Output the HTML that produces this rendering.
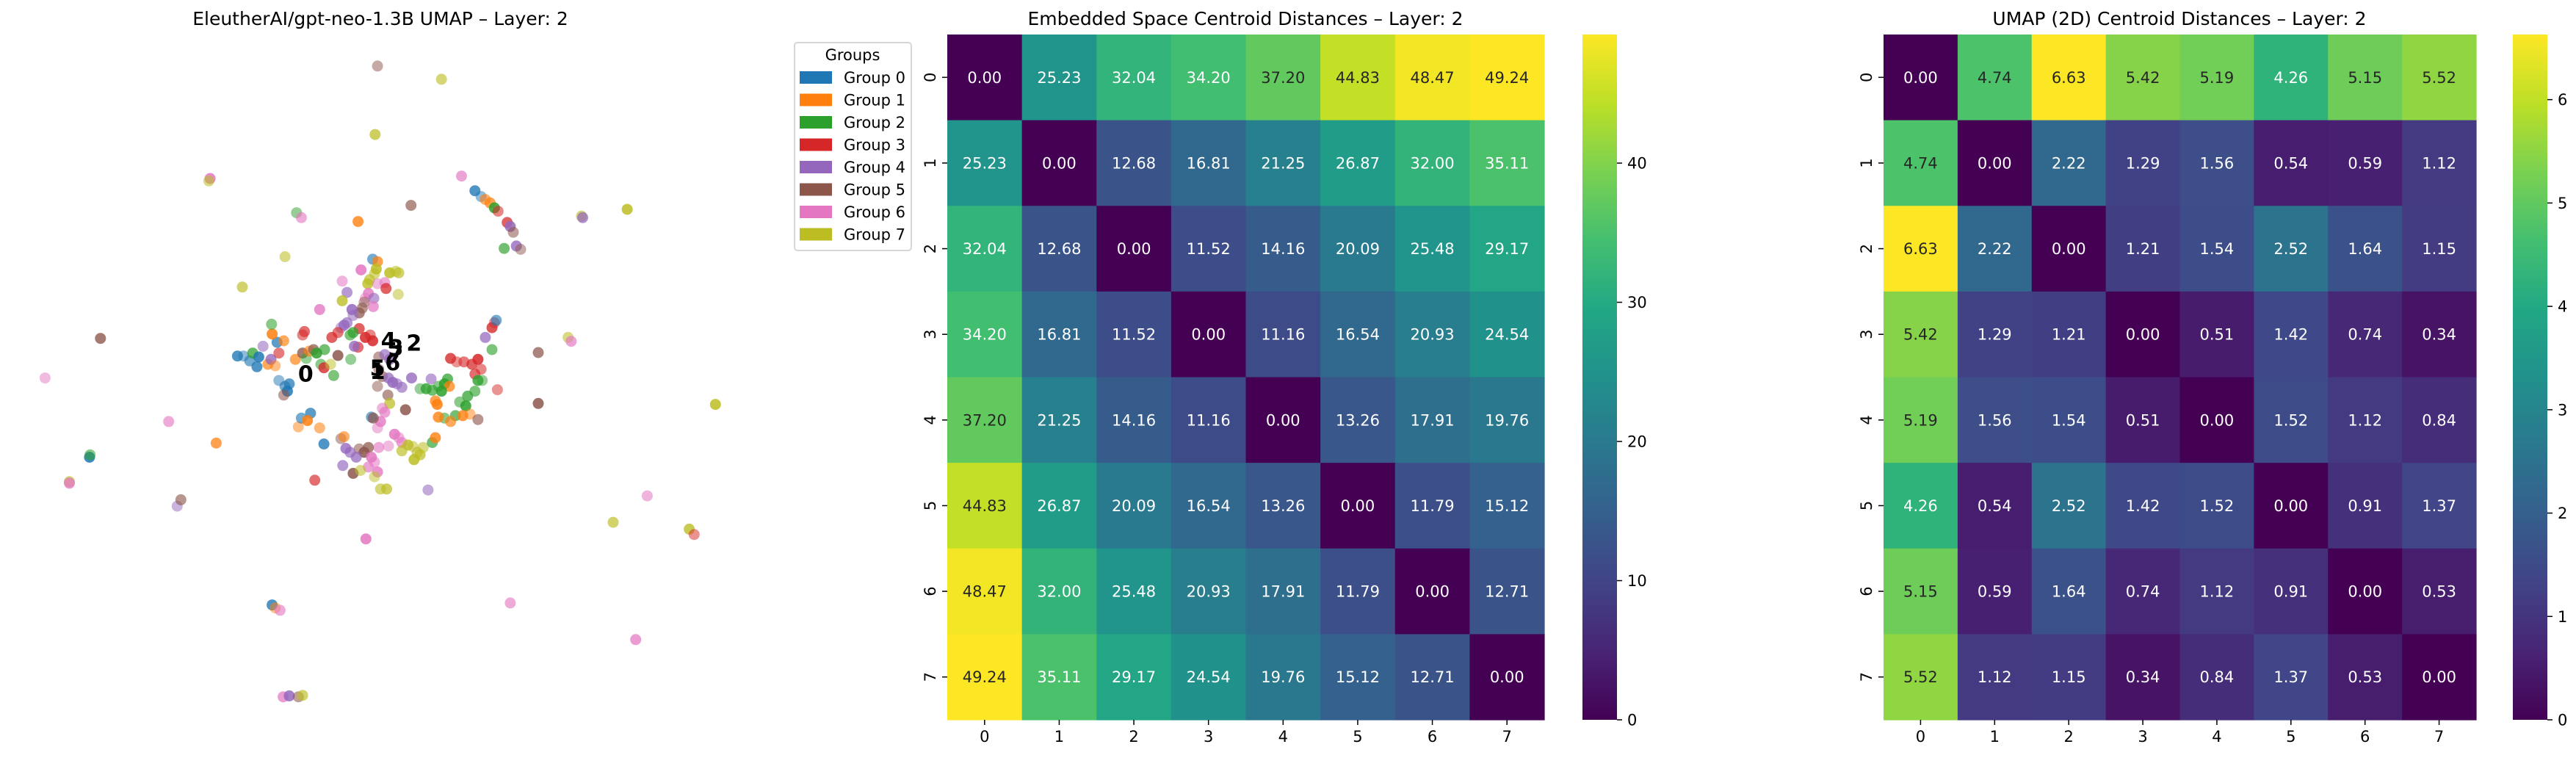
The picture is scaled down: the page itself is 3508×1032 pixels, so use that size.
<!DOCTYPE html>
<html><head><meta charset="utf-8">
<style>
html,body{margin:0;padding:0;background:#fff;}
svg{display:block;font-family:"DejaVu Sans","Liberation Sans",sans-serif;}
</style></head>
<body>
<svg id="fig" width="3508" height="1032" viewBox="0 0 3508 1032" xmlns="http://www.w3.org/2000/svg">
<defs>
<linearGradient id="viridis" x1="0" y1="1" x2="0" y2="0">
<stop offset="0" stop-color="#440154"/><stop offset="0.1" stop-color="#482475"/><stop offset="0.2" stop-color="#414487"/><stop offset="0.3" stop-color="#355f8d"/><stop offset="0.4" stop-color="#2a788e"/><stop offset="0.5" stop-color="#21918c"/><stop offset="0.6" stop-color="#22a884"/><stop offset="0.7" stop-color="#44bf70"/><stop offset="0.8" stop-color="#7ad151"/><stop offset="0.9" stop-color="#bddf26"/><stop offset="1" stop-color="#fde725"/>
</linearGradient>
</defs>
<text x="518" y="34" font-size="25" text-anchor="middle">EleutherAI/gpt-neo-1.3B UMAP – Layer: 2</text>
<g id="scatter"></g>
<g id="clabels"></g>
<g id="legend"></g>
<text x="1696" y="34" font-size="25" text-anchor="middle">Embedded Space Centroid Distances – Layer: 2</text>
<g id="hm1"></g>
<text x="2968" y="34" font-size="25" text-anchor="middle">UMAP (2D) Centroid Distances – Layer: 2</text>
<g id="hm2"></g>
</svg>
<script>
const NS="http://www.w3.org/2000/svg";
const groupColors=["#1f77b4","#ff7f0e","#2ca02c","#d62728","#9467bd","#8c564b","#e377c2","#bcbd22"];
const groupNames=["Group 0","Group 1","Group 2","Group 3","Group 4","Group 5","Group 6","Group 7"];
const embDist=[
[0.00,25.23,32.04,34.20,37.20,44.83,48.47,49.24],
[25.23,0.00,12.68,16.81,21.25,26.87,32.00,35.11],
[32.04,12.68,0.00,11.52,14.16,20.09,25.48,29.17],
[34.20,16.81,11.52,0.00,11.16,16.54,20.93,24.54],
[37.20,21.25,14.16,11.16,0.00,13.26,17.91,19.76],
[44.83,26.87,20.09,16.54,13.26,0.00,11.79,15.12],
[48.47,32.00,25.48,20.93,17.91,11.79,0.00,12.71],
[49.24,35.11,29.17,24.54,19.76,15.12,12.71,0.00]];
const umapDist=[
[0.00,4.74,6.63,5.42,5.19,4.26,5.15,5.52],
[4.74,0.00,2.22,1.29,1.56,0.54,0.59,1.12],
[6.63,2.22,0.00,1.21,1.54,2.52,1.64,1.15],
[5.42,1.29,1.21,0.00,0.51,1.42,0.74,0.34],
[5.19,1.56,1.54,0.51,0.00,1.52,1.12,0.84],
[4.26,0.54,2.52,1.42,1.52,0.00,0.91,1.37],
[5.15,0.59,1.64,0.74,1.12,0.91,0.00,0.53],
[5.52,1.12,1.15,0.34,0.84,1.37,0.53,0.00]];
const embTicks=[0,10,20,30,40];
const umapTicks=[0,1,2,3,4,5,6];
const catLabels=["0","1","2","3","4","5","6","7"];
// UMAP points: x, y, group
const ptX=[6.20,7.25,6.16,3.45,3.43,7.58,7.80,7.90,7.97,8.05,8.12,8.18,6.75,5.88,4.87,4.95,8.33,8.38,8.43,8.28,8.48,8.55,9.55,9.57,10.30,4.68,3.98,1.65,0.74,2.77,3.55,1.47,1.48,1.14,1.14,2.91,2.97,8.84,8.84,9.33,9.38,8.08,8.12,8.15,7.97,11.75,10.63,10.07,11.32,11.40,8.38,10.44,6.01,7.03,5.17,4.47,4.52,4.60,4.65,4.75,4.90,4.97,
3.90,4.00,4.10,4.15,4.25,4.32,4.40,4.45,4.52,4.58,4.55,4.47,4.46,4.66,4.22,4.58,4.68,4.75,4.72,4.66,4.85,4.97,5.03,5.08,5.15,5.20,5.27,5.33,5.32,5.43,5.48,5.45,5.55,4.97,5.00,5.25,5.76,
6.12,6.20,6.18,6.15,6.07,6.04,6.20,6.32,6.34,6.40,6.50,6.55,6.05,6.00,6.14,6.13,5.93,5.62,5.70,5.62,5.98,5.95,5.90,5.78,5.80,5.70,5.65,5.60,5.75,5.90,6.00,6.08,5.88,5.82,6.54,5.55,5.80,6.12,
6.22,6.32,6.40,6.22,6.28,6.38,6.45,6.52,6.60,6.76,6.20,6.37,6.40,6.66,6.28,6.32,6.25,6.20,6.10,6.13,
6.48,6.55,6.60,6.70,6.78,6.85,6.90,6.80,6.95,7.10,7.15,6.38,6.22,6.05,5.98,5.90,5.75,5.68,5.60,5.65,5.85,6.10,6.15,6.05,6.20,6.15,6.25,6.35,5.80,5.92,5.63,5.32,4.90,4.95,5.10,5.05,5.25,6.60,
7.40,7.50,7.62,7.75,7.85,7.90,7.80,7.85,7.92,7.80,7.68,7.65,7.55,7.48,7.60,7.72,7.85,7.35,7.30,7.20,7.10,7.00,6.90,7.08,7.15,7.18,7.30,7.40,7.20,8.17,8.08,7.38,7.25];
const ptY=[1.35,1.62,2.75,3.65,3.70,3.60,3.90,4.02,4.08,4.15,4.25,4.32,4.20,4.53,4.35,4.45,4.55,4.63,4.75,5.08,5.03,5.10,4.42,4.45,4.28,5.25,5.87,6.92,7.73,8.62,9.06,9.35,9.30,9.85,9.88,10.35,10.22,7.21,8.25,6.90,6.98,6.70,6.60,6.55,6.90,8.27,10.14,10.68,10.82,10.93,12.33,13.08,11.02,10.02,9.82,12.37,12.43,12.48,14.25,14.23,14.25,14.22,
7.28,7.28,7.38,7.22,7.30,7.08,7.45,7.35,7.48,7.22,7.00,6.83,6.63,6.97,7.50,7.78,7.90,7.85,8.00,8.08,7.35,7.22,7.33,7.18,7.15,7.22,7.45,7.15,7.52,7.45,7.68,6.90,7.27,6.85,6.78,6.33,7.35,
5.30,5.35,5.50,5.60,5.72,5.80,5.80,5.78,5.90,5.58,5.55,5.58,6.00,6.10,6.10,6.27,5.52,5.75,5.98,6.15,6.18,6.30,6.40,6.33,6.45,6.60,6.65,6.70,6.85,6.72,6.90,6.85,7.10,7.08,6.02,6.80,6.80,6.97,
7.30,7.25,7.35,7.55,7.70,7.73,7.82,7.85,7.92,7.73,7.90,8.08,8.25,8.38,8.35,8.43,8.62,8.75,8.53,8.55,
8.88,8.95,9.05,9.10,9.13,9.25,9.30,9.40,9.15,9.05,8.95,9.12,9.15,9.15,9.25,9.18,9.25,9.17,8.97,8.93,9.35,9.35,9.45,9.55,9.65,9.75,10.00,10.00,9.68,9.62,9.52,9.08,8.73,8.55,8.45,8.60,8.75,9.22,
7.33,7.40,7.40,7.45,7.35,7.55,7.65,7.78,7.78,8.00,8.10,8.30,8.22,8.50,8.50,8.47,8.58,7.75,7.85,7.90,7.98,7.95,7.95,7.75,8.20,8.27,8.55,8.62,8.53,7.97,7.15,7.90,8.00];
const ptG=[5,7,7,6,7,6,0,0,1,1,2,3,5,1,2,6,3,4,5,2,4,5,7,4,7,7,7,5,6,6,1,0,2,7,6,4,5,5,5,7,6,3,3,0,4,7,6,7,7,3,6,6,6,4,3,0,1,6,6,4,5,7,
0,0,0,2,0,4,1,4,1,3,0,1,2,1,0,0,0,0,0,5,1,5,2,1,5,2,2,2,3,7,2,3,5,3,3,6,2,
0,1,7,7,7,7,6,6,3,7,7,7,6,6,4,6,6,6,4,7,5,5,5,4,4,4,4,4,2,3,3,3,3,4,7,3,2,3,
5,4,4,5,5,4,4,4,4,4,5,5,7,5,6,6,6,6,0,5,
6,6,6,7,7,7,7,7,7,2,1,6,6,5,5,5,4,4,5,1,4,6,6,6,6,7,7,7,5,7,4,0,1,0,0,1,1,7,
3,3,3,3,3,3,3,2,2,2,2,2,2,2,1,1,5,2,2,2,2,2,2,4,1,1,2,1,1,3,2,1,2];
const centroidX=[5.02,6.20,6.80,6.50,6.38,6.20,6.45,6.50];
const centroidY=[7.80,7.75,7.17,7.27,7.12,7.68,7.57,7.40];
const centroidLbl=["0","1","2","3","4","5","6","7"];

const sx=v=>v*100/1.206;
const sy=v=>v*100/1.502;

function el(tag,attrs,parent){const e=document.createElementNS(NS,tag);for(const k in attrs)e.setAttribute(k,attrs[k]);parent.appendChild(e);return e;}

// scatter
const sc=document.getElementById('scatter');
for(let i=0;i<ptX.length;i++){
  const c=el('circle',{cx:sx(ptX[i]).toFixed(1),cy:sy(ptY[i]).toFixed(1),r:7.5,fill:groupColors[ptG[i]],'fill-opacity':(0.5+0.35*((i*37)%7)/6).toFixed(2)},sc);
  
  
}
const cl=document.getElementById('clabels');
for(let i=0;i<centroidX.length;i++){
  const t=el('text',{x:sx(centroidX[i]).toFixed(1),y:sy(centroidY[i]).toFixed(1),'font-size':30,'font-weight':'bold','text-anchor':'middle',fill:'#000'},cl);
  t.textContent=centroidLbl[i];
  
  
}
// legend
const lg=document.getElementById('legend');
const lbox=el('rect',{x:1082,y:58,width:159,height:283,rx:4,fill:'#fff',stroke:'#d6d6d6','stroke-width':2},lg);


const lt=el('text',{x:1161,y:82,'font-size':21,'text-anchor':'middle'},lg);
lt.textContent='Groups';


for(let i=0;i<8;i++){
  const y=105+i*30.5;
  const r=el('rect',{x:1089,y:y-8,width:44,height:17,fill:groupColors[i]},lg);
  
  
  const t=el('text',{x:1149,y:y+8,'font-size':21},lg);
  t.textContent=groupNames[i];
  
  
}

// viridis
const vstops=[[68,1,84],[72,36,117],[65,68,135],[53,95,141],[42,120,142],[33,145,140],[34,168,132],[68,191,112],[122,209,81],[189,223,38],[253,231,37]];
function viridis(t){t=Math.max(0,Math.min(1,t));const p=t*10,i=Math.min(9,Math.floor(p)),f=p-i;const a=vstops[i],b=vstops[i+1];return [0,1,2].map(k=>Math.round(a[k]+(b[k]-a[k])*f));}
function lum(c){const l=c.map(v=>{v/=255;return v<=0.03928?v/12.92:Math.pow((v+0.055)/1.055,2.4);});return 0.2126*l[0]+0.7152*l[1]+0.0722*l[2];}

function heatmap(gid,data,ticks,x0,x1,cbx0,cbx1,y0,y1){
  const g=document.getElementById(gid);
  let vmax=0;data.forEach(r=>r.forEach(v=>{if(v>vmax)vmax=v;}));
  const n=data.length,cw=(x1-x0)/n,ch=(y1-y0)/n;
  const colX=j=>x0+j*cw, rowY=i=>y0+i*ch;
  for(let i=0;i<n;i++)for(let j=0;j<n;j++){
    const c=viridis(data[i][j]/vmax);
    const r=el('rect',{x:colX(j).toFixed(2),y:rowY(i).toFixed(2),width:(cw+0.6).toFixed(2),height:(ch+0.6).toFixed(2),fill:`rgb(${c})`},g);
    
    
    const t=el('text',{x:(colX(j)+cw/2).toFixed(1),y:(rowY(i)+ch/2+7.5).toFixed(1),'font-size':21,'text-anchor':'middle',fill:lum(c)>0.408?'#262626':'#ffffff'},g);
    t.textContent=data[i][j].toFixed(2);
    
    
  }
  for(let k=0;k<n;k++){
    const cx=colX(k)+cw/2;
    el('line',{x1:cx,y1:y1,x2:cx,y2:y1+7,stroke:'#000','stroke-width':1.5},g);
    const t=el('text',{x:cx,y:y1+30,'font-size':21,'text-anchor':'middle'},g);
    t.textContent=catLabels[k];
    
    
    const cy=rowY(k)+ch/2;
    el('line',{x1:x0-7,y1:cy,x2:x0,y2:cy,stroke:'#000','stroke-width':1.5},g);
    const ty=el('text',{x:x0-16,y:cy,'font-size':21,'text-anchor':'middle',transform:`rotate(-90 ${x0-16} ${cy})`},g);
    ty.textContent=catLabels[k];
    
    
  }
  const cb=el('rect',{x:cbx0,y:y0,width:cbx1-cbx0,height:y1-y0,fill:'url(#viridis)'},g);
  
  
  const cbY=v=>y1-(v/vmax)*(y1-y0);
  ticks.forEach(v=>{
    el('line',{x1:cbx1,y1:cbY(v),x2:cbx1+7,y2:cbY(v),stroke:'#000','stroke-width':1.5},g);
    const t=el('text',{x:cbx1+14,y:cbY(v)+7.5,'font-size':21},g);
    t.textContent=String(v);
    
    
  });
}
heatmap('hm1',embDist,embTicks,1290,2103,2155,2202,47,980);
heatmap('hm2',umapDist,umapTicks,2565,3372,3422,3469,47,980);
</script>
</body></html>
